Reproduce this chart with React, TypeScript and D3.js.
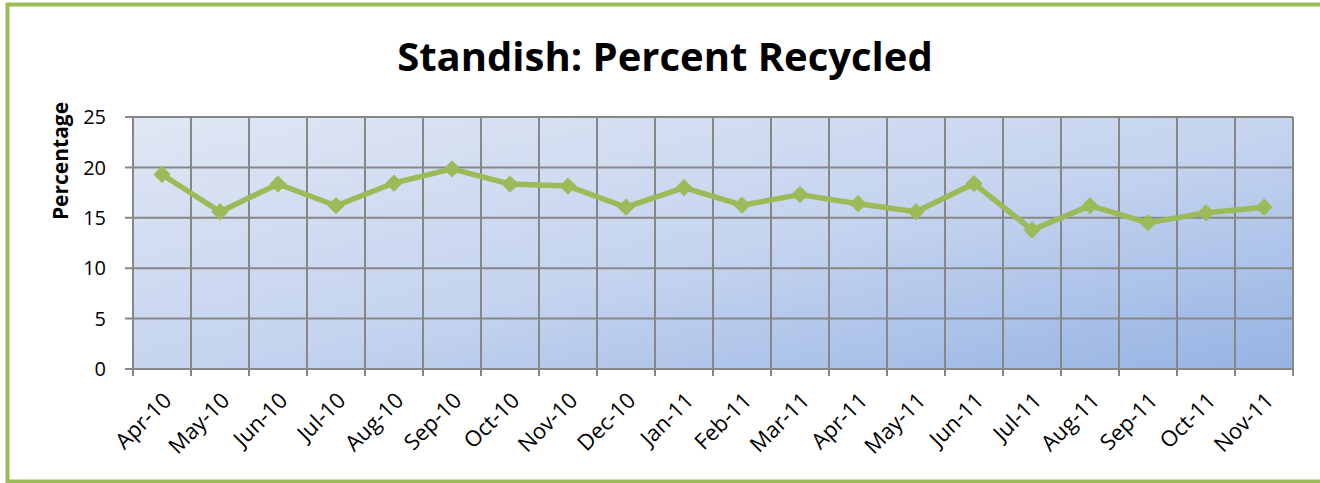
import React, { useEffect, useRef } from 'react';
import * as d3 from 'd3';

const months = [
  'Apr-10', 'May-10', 'Jun-10', 'Jul-10', 'Aug-10', 'Sep-10', 'Oct-10', 'Nov-10', 'Dec-10', 'Jan-11',
  'Feb-11', 'Mar-11', 'Apr-11', 'May-11', 'Jun-11', 'Jul-11', 'Aug-11', 'Sep-11', 'Oct-11', 'Nov-11',
];
const percentRecycled = [
  19.3, 15.6, 18.35, 16.2, 18.45, 19.85, 18.35, 18.15, 16.05, 18.0,
  16.25, 17.3, 16.4, 15.6, 18.4, 13.8, 16.2, 14.5, 15.5, 16.05,
];
const yTicks = [0, 5, 10, 15, 20, 25];

const WIDTH = 1320;
const HEIGHT = 483;
const GREEN = '#9bbb59';

const App: React.FC = () => {
  const svgRef = useRef<SVGSVGElement | null>(null);

  useEffect(() => {
    if (!svgRef.current) return;
    const svg = d3.select(svgRef.current);
    svg.selectAll('*').remove();

    const margin = { top: 117, right: 27, bottom: 114, left: 133 };
    const innerWidth = WIDTH - margin.left - margin.right;
    const innerHeight = HEIGHT - margin.top - margin.bottom;

    // gradient for plot area
    const defs = svg.append('defs');
    const grad = defs.append('linearGradient')
      .attr('id', 'plotBg')
      .attr('x1', '0%').attr('y1', '0%')
      .attr('x2', '100%').attr('y2', '100%');
    grad.append('stop').attr('offset', '0%').attr('stop-color', '#e0e7f4');
    grad.append('stop').attr('offset', '55%').attr('stop-color', '#c3d2ee');
    grad.append('stop').attr('offset', '100%').attr('stop-color', '#95b3e3');

    // outer frame
    svg.append('rect')
      .attr('x', 7.5).attr('y', 4.5)
      .attr('width', WIDTH)
      .attr('height', HEIGHT - 6)
      .attr('fill', 'white')
      .attr('stroke', GREEN)
      .attr('stroke-width', 4);

    // title
    svg.append('text')
      .attr('x', 665)
      .attr('y', 71)
      .attr('text-anchor', 'middle')
      .attr('font-family', '"Open Sans", sans-serif')
      .attr('font-weight', 'bold')
      .attr('font-size', '40px')
      .attr('fill', '#000')
      .text('Standish: Percent Recycled');

    const xScale = d3.scaleBand()
      .domain(months)
      .range([0, innerWidth]);

    const yScale = d3.scaleLinear()
      .domain([0, 25])
      .range([innerHeight, 0]);

    const g = svg.append('g')
      .attr('transform', `translate(${margin.left},${margin.top})`);

    g.append('rect')
      .attr('width', innerWidth)
      .attr('height', innerHeight)
      .attr('fill', 'url(#plotBg)');

    // horizontal gridlines
    g.selectAll('line.hgrid')
      .data(yTicks)
      .enter().append('line')
      .attr('class', 'hgrid')
      .attr('x1', -8)
      .attr('x2', innerWidth)
      .attr('y1', d => yScale(d))
      .attr('y2', d => yScale(d))
      .attr('stroke', '#878787')
      .attr('stroke-width', 2);

    // vertical gridlines
    const vLines = months.map(m => xScale(m)!).concat([innerWidth]);
    g.selectAll('line.vgrid')
      .data(vLines)
      .enter().append('line')
      .attr('class', 'vgrid')
      .attr('x1', d => d)
      .attr('x2', d => d)
      .attr('y1', 0)
      .attr('y2', innerHeight + 7)
      .attr('stroke', '#878787')
      .attr('stroke-width', 2);

    // y tick labels
    g.selectAll('text.ytick')
      .data(yTicks)
      .enter().append('text')
      .attr('class', 'ytick')
      .attr('x', -27)
      .attr('y', d => yScale(d))
      .attr('dy', '0.36em')
      .attr('text-anchor', 'end')
      .attr('font-family', '"Open Sans", sans-serif')
      .attr('font-size', '20px')
      .text(d => d);

    // x tick labels
    g.selectAll('text.xtick')
      .data(months)
      .enter().append('text')
      .attr('class', 'xtick')
      .attr('transform', d => `translate(${xScale(d)! + xScale.bandwidth() / 2},${innerHeight + 22}) rotate(-45)`)
      .attr('text-anchor', 'end')
      .attr('dy', '0.7em')
      .attr('font-family', '"Open Sans", sans-serif')
      .attr('font-size', '22px')
      .text(d => d);

    // y axis title
    svg.append('text')
      .attr('transform', 'translate(68,161) rotate(-90)')
      .attr('text-anchor', 'middle')
      .attr('font-family', '"Open Sans", sans-serif')
      .attr('font-weight', 'bold')
      .attr('font-size', '21px')
      .text('Percentage');

    // line
    const line = d3.line<number>()
      .x((d, i) => xScale(months[i])! + xScale.bandwidth() / 2)
      .y(d => yScale(d));

    g.append('path')
      .datum(percentRecycled)
      .attr('fill', 'none')
      .attr('stroke', GREEN)
      .attr('stroke-width', 5.5)
      .attr('stroke-linejoin', 'round')
      .attr('d', line);

    const diamond = d3.symbol().type(d3.symbolDiamond2).size(190);
    g.selectAll('path.marker')
      .data(percentRecycled)
      .enter().append('path')
      .attr('class', 'marker')
      .attr('transform', (d, i) => `translate(${xScale(months[i])! + xScale.bandwidth() / 2},${yScale(d)})`)
      .attr('d', diamond)
      .attr('fill', GREEN);
  }, []);

  return (
    <svg
      ref={svgRef}
      width={WIDTH}
      height={HEIGHT}
      style={{ position: 'absolute', left: 0, top: 0, display: 'block' }}
    />
  );
};

export default App;
